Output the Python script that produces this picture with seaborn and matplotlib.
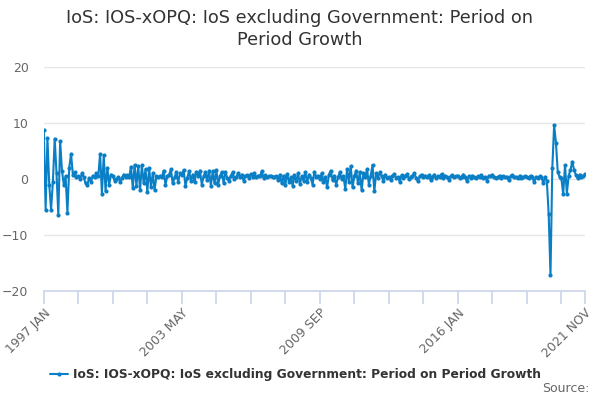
import numpy as np
import pandas as pd
import matplotlib
matplotlib.use("Agg")
import matplotlib.pyplot as plt
import seaborn as sns

# === Data (monthly, 1997 JAN - 2021 NOV) ===
seg_1997 = [8.8, -5.5, 7.3, -1.0, -5.5, -0.5, 7.2, 1.0, -6.5, 6.8, 1.5, -1.0,
            0.5, -6.0, 2.0, 4.5, 0.8, 1.2, 0.3, 0.5, 0.0]
seg_1998 = [1.0, 0.3, -0.8, -1.0, 0.2, -0.5, 0.6, 0.4, 1.0, 0.5]
seg_1999 = [4.5, -2.6, 4.2, -2.2, 2.0, -1.0, 0.8, 0.5]
seg_2000 = [-0.3, 0.0, 0.3, -0.5, 0.2, 0.8, 0.4, 0.7, 0.3]
seg_2001 = [2.2, -1.6, 2.5, -1.2, 2.3, -2.0, 2.5, -0.8, 1.8, -2.3, 2.0, -1.5,
            1.0, -2.0, 0.5, 0.3, 0.5, 0.3]
seg_2002 = [1.5, -1.0, 0.5, 0.8, 1.7, -0.8, 0.3, 1.2, -0.5, 1.0, 0.7, 1.6,
            -1.2, 0.2, 1.4, -0.3, 0.8, -0.6, 1.3, 0.6, 1.5, -1.0, 0.5, 1.2, -0.2]
seg_2004 = [1.5, -1.2, 1.4, -0.8, 1.6, -1.0, 0.5, 1.2, -0.7, 1.3, 0.2, -0.3,
            0.6, 1.2, 0.0, 0.4, 1.0, 0.3, 0.8, -0.3]
seg_2006 = [0.5, 0.7, 0.2, 0.9, 0.4, 1.0, 0.3, 0.6, 0.5, 1.4, 0.2, 0.7,
            0.4, 0.5, 0.6, 0.3, 0.4, 0.5]
seg_2007 = [-0.2, 0.8, -0.8, 0.6, -1.0, 0.9, -0.5, 0.3, -1.2, 0.7, -0.4, 1.0,
            -0.9, 0.5, -0.3, 1.2, -0.6, 0.8, 0.2, -1.0, 1.3, 0.4]
seg_2009 = [0.6, 0.0, 1.0, -0.5, 0.4, -1.5, 0.8, 1.5, -0.2, 0.6, -1.0, 0.3,
            1.2, 0.0, 0.5]
seg_2010 = [-1.8, 1.8, -0.5, 2.3, -1.5, 0.5, 1.5, -0.8, 1.2, -2.0, 1.0, 0.3,
            1.8, -1.0, 0.6, 2.5, -2.2, 1.0, 0.2, 1.2]
seg_2012 = [0.5, -0.3, 0.8, 0.1, 0.4, -0.2, 0.6, 0.9, 0.2, 0.3, -0.5, 0.7,
            0.2, 0.5, 0.9, 0.0, 0.4, 0.6, 1.0, 0.2, -0.4, 0.5, 0.8, 0.3, 0.6]
seg_2014 = [0.3, 0.7, -0.2, 0.4, 0.8, 0.1, 0.5, 0.3, 0.9, 0.2, 0.6, 0.4,
            -0.1, 0.5, 0.7, 0.3, 0.5, 0.6, 0.2, 0.4, 0.8, 0.3, -0.4, 0.5,
            0.2, 0.6, 0.4, 0.1, 0.5, 0.3, 0.7, 0.2, 0.4, -0.3, 0.6, 0.5,
            0.8, 0.3, 0.2, 0.4, 0.6, 0.1, 0.5, 0.3, 0.4, -0.2, 0.5, 0.7,
            0.3, 0.4, 0.2, 0.6, 0.1, 0.3, 0.5, 0.4, 0.2, 0.6, 0.3, -0.6,
            0.4, 0.1, 0.5, 0.3, -0.7]
seg_2020 = [0.4, -0.4, -6.3, -17.2, 2.0, 9.6, 6.5, 1.2, 0.4, 0.1, -2.7, 2.5,
            -2.6, 0.6, 1.6, 3.1, 1.6, 0.7, 0.1, 0.8, 0.3, 0.5, 0.9]

growth = (seg_1997 + seg_1998 + seg_1999 + seg_2000 + seg_2001 + seg_2002 +
          seg_2004 + seg_2006 + seg_2007 + seg_2009 + seg_2010 + seg_2012 +
          seg_2014 + seg_2020)
months = pd.date_range("1997-01-01", "2021-11-01", freq="MS")
assert len(growth) == len(months)

tick_every = 19
label_every = 4
y_ticks = [-20, -10, 0, 10, 20]
series_name = "IoS: IOS-xOPQ: IoS excluding Government: Period on Period Growth"
title = "IoS: IOS-xOPQ: IoS excluding Government: Period on\nPeriod Growth"

df = pd.DataFrame({"idx": np.arange(len(months)), "value": growth})
month_labels = [d.strftime("%Y %b").upper() for d in months]

# === Plot ===
sns.set_theme(style="white")
plt.rcParams["font.family"] = ["DejaVu Sans"]

fig = plt.figure(figsize=(6, 4), dpi=100)
ax = fig.add_axes([0.073, 0.2725, 0.902, 0.56])

line_color = "#0a7fc6"
sns.lineplot(data=df, x="idx", y="value", ax=ax, color=line_color,
             linewidth=1.5, marker="o", markersize=3, markeredgewidth=0,
             label=series_name)

ax.set_xlim(0, len(months) - 1)
ax.set_ylim(-20, 20)
ax.set_yticks(y_ticks)
ax.yaxis.grid(True, color="#e6e6e6", linewidth=1)
ax.set_axisbelow(True)

tick_pos = list(range(0, len(months), tick_every))
if tick_pos[-1] != len(months) - 1:
    tick_pos.append(len(months) - 1)
labels = []
for i, p in enumerate(tick_pos):
    if i % label_every == 0 or p == len(months) - 1:
        labels.append(month_labels[p])
    else:
        labels.append("")
ax.set_xticks(tick_pos)
ax.set_xticklabels(labels, rotation=45, ha="right", rotation_mode="anchor")

for s in ["left", "right", "top"]:
    ax.spines[s].set_visible(False)
ax.spines["bottom"].set_color("#ccd6eb")
ax.tick_params(axis="x", length=9, color="#ccd6eb", colors="#666666",
               labelsize=9, pad=2, bottom=True)
ax.tick_params(axis="y", length=0, colors="#666666", labelsize=9, pad=11)
ax.set_xlabel("")
ax.set_ylabel("")

fig.suptitle(title, x=0.5, y=0.977, fontsize=12.8, color="#333333",
             va="top", linespacing=1.25)

leg = ax.legend(loc="upper center", bbox_to_anchor=(0.465, -0.295),
                frameon=False, fontsize=8.8, handlelength=1.5,
                handletextpad=0.4)
for t in leg.get_texts():
    t.set_color("#333333")
    t.set_fontweight("bold")

fig.text(0.982, 0.012, "Source:", ha="right", va="bottom", fontsize=9,
         color="#666666")

fig.savefig("out.png", dpi=100)
